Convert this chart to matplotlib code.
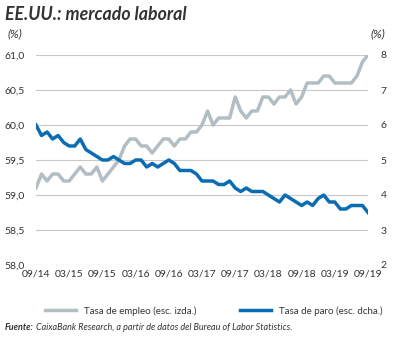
import matplotlib
matplotlib.use("Agg")
import matplotlib.pyplot as plt

plt.rcParams['font.family'] = ['Lato', 'DejaVu Sans']

# monthly data, 09/2014 .. 09/2019
empleo = [59.1, 59.3, 59.2, 59.3,
          59.3, 59.2, 59.2, 59.3, 59.4, 59.3, 59.3, 59.4, 59.2, 59.3, 59.4, 59.5,
          59.7, 59.8, 59.8, 59.7, 59.7, 59.6, 59.7, 59.8, 59.8, 59.7, 59.8, 59.8,
          59.9, 59.9, 60.0, 60.2, 60.0, 60.1, 60.1, 60.1, 60.4, 60.2, 60.1, 60.2,
          60.2, 60.4, 60.4, 60.3, 60.4, 60.4, 60.5, 60.3, 60.4, 60.6, 60.6, 60.6,
          60.7, 60.7, 60.6, 60.6, 60.6, 60.6, 60.7, 60.9, 61.0]
paro = [6.0, 5.7, 5.8, 5.6,
        5.7, 5.5, 5.4, 5.4, 5.6, 5.3, 5.2, 5.1, 5.0, 5.0, 5.1, 5.0,
        4.9, 4.9, 5.0, 5.0, 4.8, 4.9, 4.8, 4.9, 5.0, 4.9, 4.7, 4.7,
        4.7, 4.6, 4.4, 4.4, 4.4, 4.3, 4.3, 4.4, 4.2, 4.1, 4.2, 4.1,
        4.1, 4.1, 4.0, 3.9, 3.8, 4.0, 3.9, 3.8, 3.7, 3.8, 3.7, 3.9,
        4.0, 3.8, 3.8, 3.6, 3.6, 3.7, 3.7, 3.7, 3.5]
xlabels = ["09/14", "03/15", "09/15", "03/16", "09/16", "03/17",
           "09/17", "03/18", "09/18", "03/19", "09/19"]
left_ticks = [58.0, 58.5, 59.0, 59.5, 60.0, 60.5, 61.0]
right_ticks = [2, 3, 4, 5, 6, 7, 8]

gray = "#b2bec3"
blue = "#0a6db3"
txt = "#333333"

fig = plt.figure(figsize=(3.94, 3.38), dpi=100)
ax = fig.add_axes([36 / 394, 1 - 265 / 338, 332 / 394, 210 / 338])
ax2 = ax.twinx()

x = list(range(len(empleo)))
ax.plot(x, empleo, color=gray, lw=2.5, solid_joinstyle="round", zorder=3)
ax2.plot(x, paro, color=blue, lw=2.5, solid_joinstyle="round", zorder=3)

ax.set_xlim(0, 60)
ax.set_ylim(58, 61)
ax2.set_ylim(2, 8)
ax.set_yticks(left_ticks)
ax.set_yticklabels([f"{v:.1f}".replace(".", ",") for v in left_ticks])
ax2.set_yticks(right_ticks)
ax2.set_yticklabels([str(v) for v in right_ticks])
ax.set_xticks(range(0, 61, 6))
ax.set_xticklabels(xlabels)

ax.grid(axis="y", color="#c8c8c8", lw=0.8)
ax.set_axisbelow(True)
for a in (ax, ax2):
    for s in a.spines.values():
        s.set_visible(False)
    a.tick_params(length=0, labelsize=7.5, colors=txt)
ax.tick_params(axis="y", pad=8)
ax2.tick_params(axis="y", pad=9)
ax.tick_params(axis="x", pad=3)

fig.text(5 / 394, 1 - 14 / 338, "EE.UU.: mercado laboral", fontsize=12.8,
         fontweight="bold", fontstyle="italic", color=txt, va="center")
fig.text(7 / 394, 1 - 34 / 338, "(%)", fontsize=8.5, fontstyle="italic",
         color=txt, va="center")
fig.text(385 / 394, 1 - 34 / 338, "(%)", fontsize=8.5, fontstyle="italic",
         color=txt, va="center", ha="right")

h1, = ax.plot([], [], color=gray, lw=2.5)
h2, = ax.plot([], [], color=blue, lw=2.5)
fig.legend([h1, h2], ["Tasa de empleo (esc. izda.)", "Tasa de paro (esc. dcha.)"],
           loc="center", bbox_to_anchor=(214 / 394, 1 - 311 / 338), ncol=2,
           frameon=False, fontsize=7, handlelength=3.2, columnspacing=4.5,
           labelcolor=txt)

f1 = fig.text(5 / 394, 1 - 327 / 338, "Fuente:", fontsize=6.5,
              fontweight="bold", fontstyle="italic", color=txt, va="center")
fig.canvas.draw()
bb = f1.get_window_extent()
fig.text((bb.x1 + 2) / 394, 1 - 327 / 338,
         "CaixaBank Research, a partir de datos del Bureau of Labor Statistics.",
         fontsize=6.5, fontstyle="italic", color=txt, va="center")

fig.savefig("out.png", dpi=100)
